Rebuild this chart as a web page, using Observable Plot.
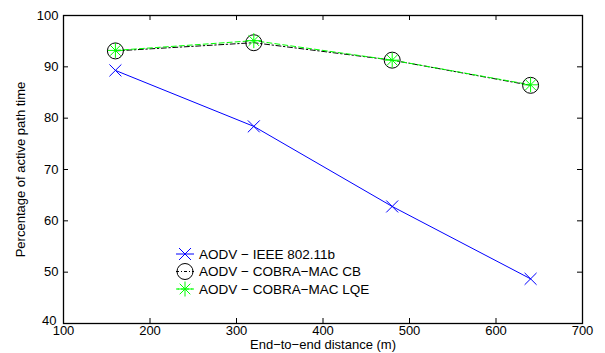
<!DOCTYPE html>
<html><head><meta charset="utf-8">
<script src="https://cdn.jsdelivr.net/npm/d3@7"></script>
<script src="https://cdn.jsdelivr.net/npm/@observablehq/plot@0.6"></script>
<style>
body{margin:0;background:#fff;}
#chart{position:relative;width:605px;height:353px;}
#chart svg{font-family:"Liberation Sans",Arial,Helvetica,sans-serif;}
</style></head><body><div id="chart"></div>
<script>
const distances = [160, 320, 480, 640];
const aodvIEEE = [89.3, 78.4, 62.8, 48.7];
const cobraCB = [93.1, 94.7, 91.3, 86.4];
const cobraLQE = [93.2, 95.1, 91.3, 86.5];
const xTicks = [100, 200, 300, 400, 500, 600, 700];
const yTicks = [40, 50, 60, 70, 80, 90, 100];
const seriesNames = ["AODV \u2212 IEEE 802.11b", "AODV \u2212 COBRA\u2212MAC CB", "AODV \u2212 COBRA\u2212MAC LQE"];
const xLabel = "End\u2212to\u2212end distance (m)";
const yLabel = "Percentage of active path time";

const W = 605, H = 353, mL = 63, mR = 23, mT = 15, mB = 30;
const fw = W - mL - mR, fh = H - mT - mB, tl = 5;
const FONT = '"Liberation Sans", Arial, Helvetica, sans-serif';

const asterisk8 = {
  draw(ctx, size) {
    const r = Math.sqrt(size / Math.PI);
    const d = r * Math.SQRT1_2;
    ctx.moveTo(-r, 0); ctx.lineTo(r, 0);
    ctx.moveTo(0, -r); ctx.lineTo(0, r);
    ctx.moveTo(-d, -d); ctx.lineTo(d, d);
    ctx.moveTo(-d, d); ctx.lineTo(d, -d);
  }
};

const rows = (ys) => distances.map((x, i) => ({x, y: ys[i]}));
const dA = rows(aodvIEEE), dC = rows(cobraCB), dL = rows(cobraLQE);
const yMin = yTicks[0];

const chart = Plot.plot({
  width: W, height: H,
  marginLeft: mL, marginRight: mR, marginTop: mT, marginBottom: mB,
  x: {domain: [100, 700]},
  y: {domain: [40, 100]},
  style: {fontFamily: FONT, fontSize: "13px", background: "#fff", color: "#000"},
  marks: [
    Plot.axisX({ticks: xTicks, tickSize: 0, tickPadding: 2, label: null, fontSize: 13, tickFormat: d => String(d)}),
    Plot.axisY({ticks: yTicks.filter(t => t !== yMin), tickSize: 0, tickPadding: 5, label: null, fontSize: 13, tickFormat: d => String(d)}),
    Plot.axisY({ticks: [yMin], tickSize: 0, tickPadding: 7, dy: -3, label: null, fontSize: 13, tickFormat: d => String(d)}),
    Plot.tickX(xTicks, {x: d => d, insetTop: fh - tl, stroke: "#000", strokeWidth: 1}),
    Plot.tickX(xTicks, {x: d => d, insetBottom: fh - tl, stroke: "#000", strokeWidth: 1}),
    Plot.tickY(yTicks, {y: d => d, insetRight: fw - tl, stroke: "#000", strokeWidth: 1}),
    Plot.tickY(yTicks, {y: d => d, insetLeft: fw - tl, stroke: "#000", strokeWidth: 1}),
    Plot.frame({stroke: "#000", strokeWidth: 1.3}),
    Plot.line(dA, {x: "x", y: "y", stroke: "#0000ff", strokeWidth: 1}),
    Plot.line(dC, {x: "x", y: "y", stroke: "#000", strokeWidth: 1, strokeDasharray: "5,2.5,1.5,2.5"}),
    Plot.line(dL, {x: "x", y: "y", stroke: "#00ff00", strokeWidth: 1, strokeDasharray: "5,3"}),
    Plot.dot(dA, {x: "x", y: "y", symbol: "times", r: 5.5, stroke: "#0000ff", strokeWidth: 1, fill: "none"}),
    Plot.dot(dC, {x: "x", y: "y", symbol: "circle", r: 8, stroke: "#000", strokeWidth: 1, fill: "none"}),
    Plot.dot(dL, {x: "x", y: "y", symbol: asterisk8, r: 7.5, stroke: "#00ff00", strokeWidth: 1, fill: "none"}),
    Plot.text([xLabel], {frameAnchor: "bottom", dy: 25, text: d => d, fontSize: 13, fill: "#000", textAnchor: "middle"}),
    Plot.text([yLabel], {frameAnchor: "left", dx: -43, rotate: -90, text: d => d, fontSize: 13, fill: "#000", textAnchor: "middle"})
  ]
});
document.getElementById("chart").appendChild(chart);

// legend
const svg = d3.select(chart);
const leg = svg.append("g").attr("font-size", 13.5).attr("font-family", FONT).attr("text-anchor", "start");
const legStyles = [
  {stroke: "#0000ff", dash: null, sym: d3.symbolTimes, r: 5.5},
  {stroke: "#000", dash: "3,2,1,2", sym: d3.symbolCircle, r: 8},
  {stroke: "#00ff00", dash: "3,2", sym: asterisk8, r: 7.5}
];
const legY = [254, 271.5, 289];
seriesNames.forEach((name, i) => {
  const s = legStyles[i];
  const g = leg.append("g").attr("transform", `translate(185,${legY[i]})`);
  g.append("line").attr("x1", -9).attr("x2", 9).attr("stroke", s.stroke).attr("stroke-dasharray", s.dash);
  g.append("path").attr("d", d3.symbol(s.sym, s.r * s.r * Math.PI)()).attr("stroke", s.stroke).attr("fill", "none");
  g.append("text").attr("x", 14).attr("dy", "0.35em").attr("fill", "#000").text(name);
});
</script></body></html>
